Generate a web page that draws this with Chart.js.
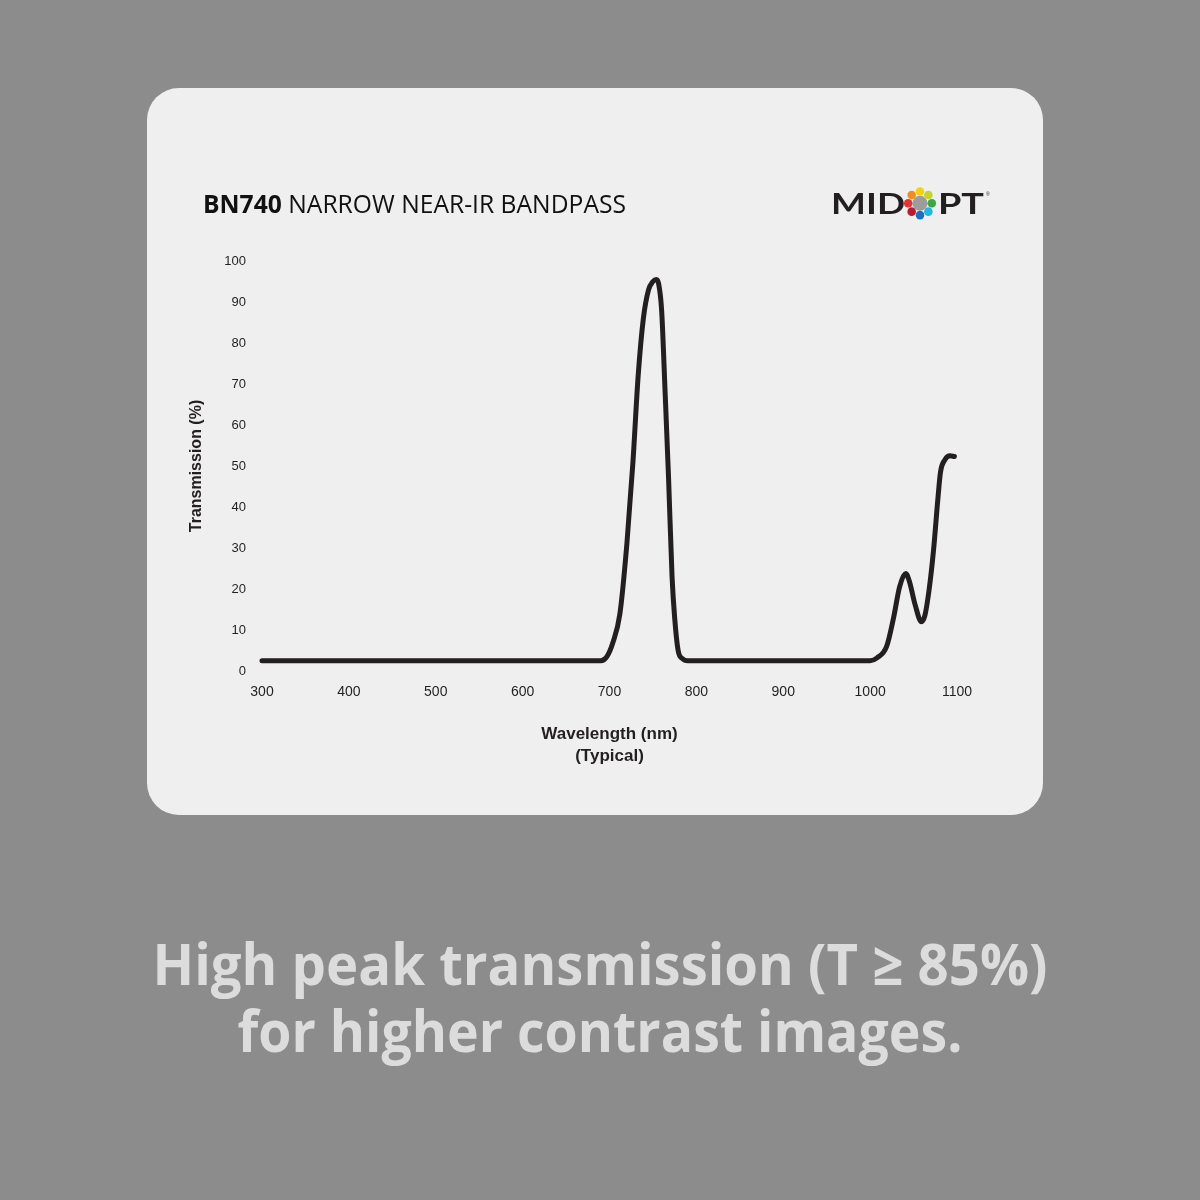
<!DOCTYPE html>
<html>
<head>
<meta charset="utf-8">
<script src="https://cdn.jsdelivr.net/npm/chart.js@4.4.1/dist/chart.umd.min.js"></script>
<style>
  html, body { margin:0; padding:0; width:1200px; height:1200px; background:#8c8c8c; overflow:hidden; }
  #card { position:absolute; left:147px; top:88px; width:896px; height:727px; background:#efefef; border-radius:32px; }
  #chart { position:absolute; left:0; top:0; }
  .txt { position:absolute; white-space:nowrap; margin:0; }
  #title { left:203px; top:190px; font-family:"Open Sans", sans-serif; font-size:25px; color:#111; transform-origin:left center; }
  #title b { font-weight:700; }
  .logo { top:190px; font-family:"Lato", "Open Sans", sans-serif; font-size:28px; font-weight:700; color:#231f20; transform-origin:left center; }
  .bottom { left:0; width:1200px; text-align:center; font-family:"Open Sans", sans-serif; font-weight:700; font-size:58px; color:#dcdcdc; transform-origin:600px center; }
</style>
</head>
<body>
<div id="card"></div>
<canvas id="chart" width="1200" height="1200"></canvas>
<div id="title" class="txt"><span><b>BN740</b> NARROW NEAR-IR BANDPASS</span></div>
<div id="logoA" class="txt logo" style="left:831px"><span>MID</span></div>
<svg id="ring" style="position:absolute;left:900px;top:183px" width="40" height="40" viewBox="0 0 40 40"></svg>
<div id="logoB" class="txt logo" style="left:938px"><span>PT</span></div>
<div class="txt" style="left:986px;top:191px;font-family:'Liberation Sans',Arial,sans-serif;font-size:5px;color:#231f20">®</div>
<div id="line1" class="txt bottom" style="top:930px"><span>High peak transmission (T ≥ 85%)</span></div>
<div id="line2" class="txt bottom" style="top:1000px"><span>for higher contrast images.</span></div>
<script>
// ---- data ----
const wavelengths = [300, 690, 697, 704, 712, 720, 727, 733, 739, 745, 750, 754, 756.5, 760, 764, 768, 772, 775, 779, 784, 790,
                     1000, 1008, 1019, 1027, 1034, 1041, 1045, 1052, 1059, 1063, 1068, 1073, 1078, 1081, 1086, 1092, 1097];
const transmission = [2.5, 2.5, 3.5, 7, 14, 31, 51, 72, 86, 93, 95, 95.5, 94.5, 88, 68, 47, 23, 13, 5, 3, 2.5,
                      2.5, 3.2, 6, 13, 20.6, 23.8, 22, 16, 12, 13.5, 20, 29.5, 42, 48.5, 51.5, 52.5, 52.3];
const xTickValues = [300, 400, 500, 600, 700, 800, 900, 1000, 1100];
const yTickValues = [0, 10, 20, 30, 40, 50, 60, 70, 80, 90, 100];
const xTitle = ['Wavelength (nm)', '(Typical)'];
const yTitle = 'Transmission (%)';

const ink = '#231f20';
const tickFont = 'Liberation Sans, Arial, sans-serif';

new Chart(document.getElementById('chart'), {
  type: 'line',
  data: {
    datasets: [{
      data: wavelengths.map((w, i) => ({ x: w, y: transmission[i] })),
      borderColor: ink,
      borderWidth: 5,
      pointRadius: 0,
      fill: false,
      cubicInterpolationMode: 'monotone',
      borderCapStyle: 'round',
      borderJoinStyle: 'round',
      clip: false
    }]
  },
  options: {
    responsive: false,
    animation: false,
    devicePixelRatio: 1,
    layout: { padding: { left: 0, top: 261, right: 243, bottom: 0 } },
    plugins: { legend: { display: false }, tooltip: { enabled: false } },
    scales: {
      x: {
        type: 'linear', min: 300, max: 1100,
        grid: { display: false, drawTicks: false },
        border: { display: false },
        afterBuildTicks: s => { s.ticks = xTickValues.map(v => ({ value: v })); },
        ticks: { padding: 13, color: ink, maxRotation: 0, autoSkip: false, font: { family: tickFont, size: 14 },
                 callback: v => String(v) },
        title: { display: true, text: xTitle, color: ink, font: { family: tickFont, size: 17, weight: 'bold', lineHeight: 22/17 }, padding: { top: 0, bottom: 433 } },
        afterFit: s => { s.height = 529; s.paddingLeft = 0; s.paddingRight = 0; }
      },
      y: {
        min: 0, max: 100,
        grid: { display: false, drawTicks: false },
        border: { display: false },
        afterBuildTicks: s => { s.ticks = yTickValues.map(v => ({ value: v })); },
        ticks: { padding: 16, color: ink, font: { family: tickFont, size: 13 }, callback: v => String(v) },
        title: { display: true, text: yTitle, color: ink, font: { family: tickFont, size: 16, weight: 'bold', lineHeight: 1.2 }, padding: { top: 187, bottom: 0 } },
        afterFit: s => { s.width = 262; s.paddingTop = 0; s.paddingBottom = 0; }
      }
    }
  }
});

// ---- logo ring ----
(function(){
  const svg = document.getElementById('ring');
  const ns = 'http://www.w3.org/2000/svg';
  const cx = 20, cy = 20.3;
  const cols = ['#f6d10f', '#c3d52c', '#3aa84a', '#22b6e3', '#1c6fbe', '#b21d33', '#e2333b', '#f28c1e'];
  let c = document.createElementNS(ns, 'circle');
  c.setAttribute('cx', cx); c.setAttribute('cy', cy); c.setAttribute('r', 7.5); c.setAttribute('fill', '#9c9c9c');
  svg.appendChild(c);
  cols.forEach((col, i) => {
    const a = -Math.PI / 2 + i * Math.PI / 4;
    const d = document.createElementNS(ns, 'circle');
    d.setAttribute('cx', cx + 11.8 * Math.cos(a)); d.setAttribute('cy', cy + 11.8 * Math.sin(a));
    d.setAttribute('r', 4.3); d.setAttribute('fill', col);
    svg.appendChild(d);
  });
})();

// ---- text placement helpers ----
function placeBaseline(el, y) {
  const m = document.createElement('span');
  m.style.cssText = 'display:inline-block;width:0;height:0;vertical-align:baseline';
  el.appendChild(m);
  const b = m.getBoundingClientRect().top;
  el.removeChild(m);
  el.style.top = (parseFloat(el.style.top || getComputedStyle(el).top) + y - b) + 'px';
}
function fitWidth(el, w) {
  const span = el.querySelector('span');
  const cur = span.getBoundingClientRect().width;
  el.style.transform = 'scaleX(' + (w / cur) + ')';
}
const T = document.getElementById('title');
placeBaseline(T, 213); fitWidth(T, 423);
const A = document.getElementById('logoA'), B = document.getElementById('logoB');
placeBaseline(A, 213.5); fitWidth(A, 74);
placeBaseline(B, 213.5); fitWidth(B, 46);
const L1 = document.getElementById('line1'), L2 = document.getElementById('line2');
placeBaseline(L1, 985); fitWidth(L1, 895);
placeBaseline(L2, 1052); fitWidth(L2, 725);
</script>
</body>
</html>
